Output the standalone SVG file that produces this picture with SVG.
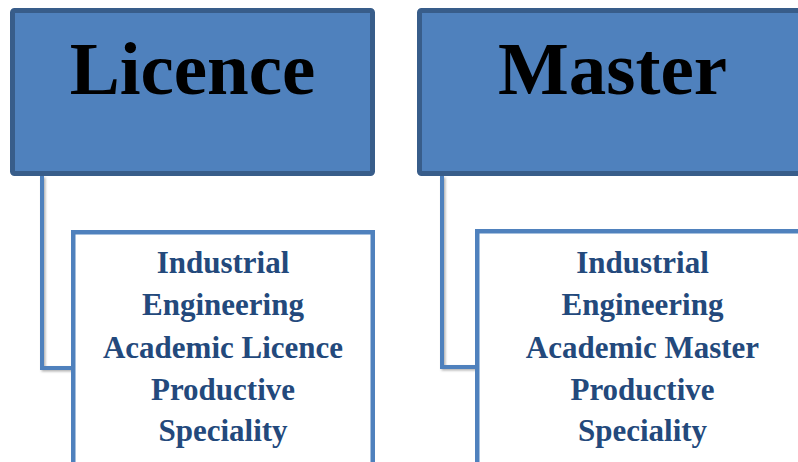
<svg xmlns="http://www.w3.org/2000/svg" width="798" height="462" viewBox="0 0 798 462">
  <defs>
    <style>
      .head rect { fill: #4F81BD; stroke: #385D8A; stroke-width: 5; }
      .head text { font-family: "Liberation Serif", "Times New Roman", serif; font-weight: bold; font-size: 75px; fill: #000; text-anchor: middle; }
      .item rect { fill: #FFFFFF; stroke: #4F81BD; stroke-width: 4.5; }
      .item text { font-family: "Liberation Serif", "Times New Roman", serif; font-weight: bold; font-size: 31px; fill: #23497C; text-anchor: middle; }
      .link { fill: none; stroke: #4F81BD; stroke-width: 4; stroke-linejoin: miter; }
    </style>
    <filter id="soft" x="-20%" y="-5%" width="140%" height="110%">
      <feDropShadow dx="1.5" dy="1.5" stdDeviation="1.2" flood-color="#000" flood-opacity="0.3"/>
    </filter>
  </defs>

  <rect width="798" height="462" fill="#FFFFFF"/>

  <!-- connectors from each heading down to its detail box -->
  <g id="connectors" filter="url(#soft)">
    <path class="link" d="M42,176 V368 H73"/>
    <path class="link" d="M442,176 V367 H477"/>
  </g>

  <g id="licence" class="head">
    <rect x="12.5" y="10.5" width="360" height="163" rx="2"/>
    <text x="192.5" y="94">Licence</text>
  </g>

  <g id="master" class="head">
    <rect x="419.5" y="10.5" width="400" height="163" rx="2"/>
    <text x="612.5" y="94">Master</text>
  </g>

  <g id="licence-detail" class="item">
    <rect x="73.25" y="232.25" width="299.5" height="250"/>
    <text x="223" y="273">Industrial</text>
    <text x="223" y="315">Engineering</text>
    <text x="223" y="358">Academic Licence</text>
    <text x="223" y="400">Productive</text>
    <text x="223" y="441">Speciality</text>
  </g>

  <g id="master-detail" class="item">
    <rect x="477.25" y="231.25" width="400" height="250"/>
    <text x="642.5" y="273">Industrial</text>
    <text x="642.5" y="315">Engineering</text>
    <text x="642.5" y="358">Academic Master</text>
    <text x="642.5" y="400">Productive</text>
    <text x="642.5" y="441">Speciality</text>
  </g>
</svg>
